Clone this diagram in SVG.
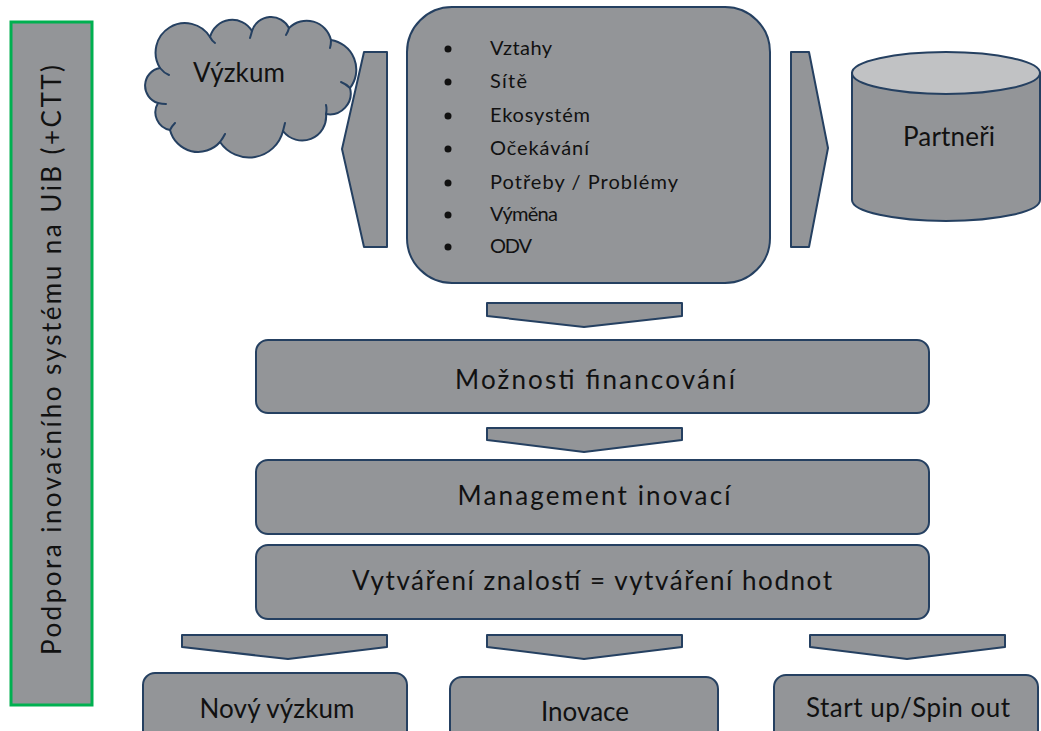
<svg xmlns="http://www.w3.org/2000/svg" width="1041" height="731" viewBox="0 0 1041 731">
  <style>
    .shape { fill: #939598; stroke: #254061; stroke-width: 2; stroke-linejoin: round; }
    .lid { fill: #c1c2c4; stroke: #254061; stroke-width: 2; }
    .fine { fill: none; stroke: #254061; stroke-width: 2; stroke-linecap: round; }
    .lbl { font-family: Lato, "Liberation Sans", sans-serif; fill: #111111; text-anchor: middle; }
    .big { font-size: 26px; }
    .item { font-family: Lato, "Liberation Sans", sans-serif; font-size: 20px; fill: #111111; }
  </style>
  <rect width="1041" height="731" fill="#ffffff"/>

  <!-- side banner -->
  <g id="banner">
    <rect x="11" y="22" width="81" height="683" fill="#939598" stroke="#00b050" stroke-width="3"/>
    <text class="lbl" style="font-size:26px" transform="translate(61 360) rotate(-90)" textLength="590">Podpora inovačního systému na UiB (+CTT)</text>
  </g>

  <!-- research cloud -->
  <g id="vyzkum">
    <path class="shape" d="M158,103 A18,18 0 0 1 160,68 A29,29 0 0 1 210,37 A23,23 0 0 1 252,31 A20,20 0 0 1 289,28 A25,25 0 0 1 331,40 A30,30 0 0 1 350,88 A21,21 0 0 1 326,114 A24,24 0 0 1 283,131 A35,35 0 0 1 220,142 A29,29 0 0 1 170,130 A18,18 0 0 1 158,103 Z"/>
    <path class="fine" d="M160,68 Q164,73 169,75 M210,37 Q212,41 215,43 M252,31 Q251,35 250,38 M289,28 Q288,32 286,35 M331,40 Q331,45 330,48 M350,88 Q346,84 341,82 M326,114 Q327,109 326,105 M283,131 Q284,127 285,123 M220,142 Q223,138 225,134 M170,130 Q172,126 175,123 M158,103 Q162,104 166,104"/>
    <text class="lbl big" x="239" y="82" textLength="92">Výzkum</text>
  </g>

  <!-- central list box -->
  <g id="vztahy">
    <rect class="shape" x="407" y="7" width="363" height="276" rx="45" ry="45"/>
    <g fill="#111111">
      <circle cx="448" cy="49" r="3.5"/>
      <circle cx="448" cy="82" r="3.5"/>
      <circle cx="448" cy="116" r="3.5"/>
      <circle cx="448" cy="149" r="3.5"/>
      <circle cx="448" cy="183" r="3.5"/>
      <circle cx="448" cy="215" r="3.5"/>
      <circle cx="448" cy="247" r="3.5"/>
    </g>
    <text class="item" x="490" y="55" textLength="62">Vztahy</text>
    <text class="item" x="490" y="88" textLength="37">Sítě</text>
    <text class="item" x="490" y="122" textLength="100">Ekosystém</text>
    <text class="item" x="490" y="155" textLength="99">Očekávání</text>
    <text class="item" x="490" y="189" textLength="188">Potřeby / Problémy</text>
    <text class="item" x="490" y="221" textLength="68">Výměna</text>
    <text class="item" x="490" y="253" textLength="42">ODV</text>
  </g>

  <!-- partners cylinder -->
  <g id="partneri">
    <path class="shape" d="M852,73 L852,200 A94,21 0 0 0 1040,200 L1040,73 Z"/>
    <ellipse class="lid" cx="946" cy="73" rx="94" ry="21"/>
    <text class="lbl big" x="949" y="146" textLength="92">Partneři</text>
  </g>

  <!-- process boxes -->
  <g id="financovani">
    <rect class="shape" x="256" y="340" width="673" height="73" rx="12"/>
    <text class="lbl big" x="595" y="389" textLength="280">Možnosti financování</text>
  </g>
  <g id="management">
    <rect class="shape" x="256" y="460" width="673" height="74" rx="12"/>
    <text class="lbl big" x="594" y="505" textLength="273">Management inovací</text>
  </g>
  <g id="hodnoty">
    <rect class="shape" x="256" y="545" width="673" height="74" rx="12"/>
    <text class="lbl big" x="592" y="590" textLength="480">Vytváření znalostí = vytváření hodnot</text>
  </g>

  <!-- outcomes -->
  <g id="novy-vyzkum">
    <rect class="shape" x="143" y="673" width="264" height="70" rx="12"/>
    <text class="lbl big" x="277" y="718" textLength="155">Nový výzkum</text>
  </g>
  <g id="inovace">
    <rect class="shape" x="450" y="677" width="268" height="70" rx="12"/>
    <text class="lbl big" x="585" y="721" textLength="88">Inovace</text>
  </g>
  <g id="startup">
    <rect class="shape" x="774" y="675" width="264" height="70" rx="12"/>
    <text class="lbl big" x="908" y="717" textLength="204">Start up/Spin out</text>
  </g>

  <!-- block arrows -->
  <g id="connectors">
    <polygon class="shape" points="364,52 387,52 387,247 364,247 342,149"/>
    <polygon class="shape" points="791,52 809,52 828,148 809,247 791,247"/>
    <polygon class="shape" points="487,303 682,303 682,316 584,327 487,316"/>
    <polygon class="shape" points="487,428 682,428 682,440 584,452 487,440"/>
    <polygon class="shape" points="182,635 387,635 387,647 288,659 182,647"/>
    <polygon class="shape" points="487,635 682,635 682,647 584,659 487,647"/>
    <polygon class="shape" points="810,635 1005,635 1005,647 907,659 810,647"/>
  </g>
</svg>
